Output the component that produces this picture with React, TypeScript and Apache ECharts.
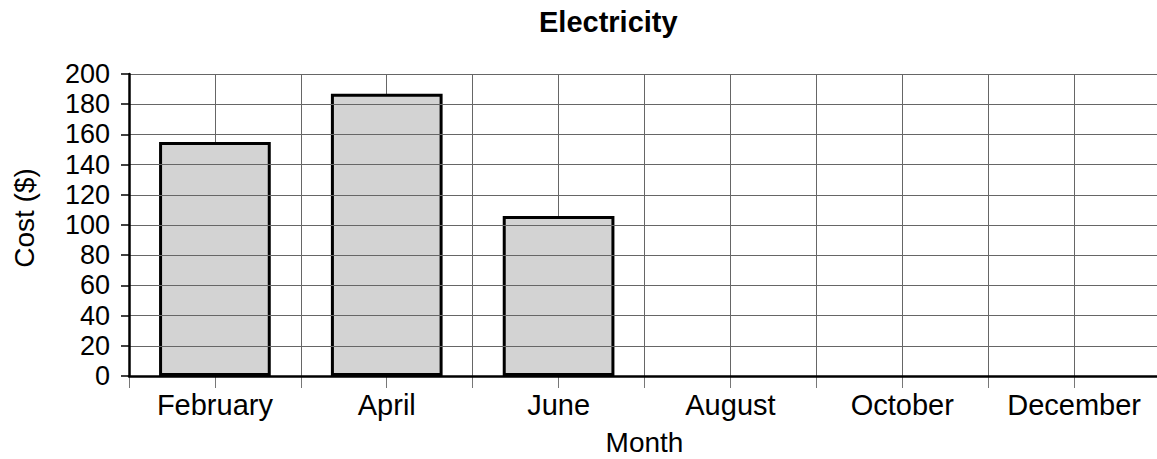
import React, { useEffect, useRef } from "react";
import * as echarts from "echarts";

const months = ["February", "April", "June", "August", "October", "December"];
const costs = [155, 187, 106, null, null, null];
const halfSlots = ["", "", "", "", "", "", "", "", "", "", "", ""];
const yMin = 0;
const yMax = 200;
const yStep = 20;

const FONT = "'Liberation Sans', Arial, Helvetica, sans-serif";

export default function App() {
  const ref = useRef<HTMLDivElement>(null);

  useEffect(() => {
    if (!ref.current) return;
    const chart = echarts.init(ref.current, null, { renderer: "svg" });
    chart.setOption({
      animation: false,
      backgroundColor: "#ffffff",
      textStyle: { fontFamily: FONT },
      title: {
        text: "Electricity",
        left: 539,
        top: 7,
        padding: 0,
        textStyle: { fontFamily: FONT, fontSize: 29, fontWeight: "bold", color: "#000" },
      },
      grid: {
        left: 129,
        right: -3,
        top: 74,
        bottom: 83,
        containLabel: false,
        outerBoundsMode: "none",
      },
      xAxis: [
        {
          type: "category",
          data: months,
          boundaryGap: true,
          position: "bottom",
          axisLine: { show: true, lineStyle: { color: "#000", width: 2.5 } },
          axisTick: { show: false },
          splitLine: { show: false },
          axisLabel: { fontSize: 29, color: "#000", margin: 14, fontFamily: FONT, interval: 0 },
          name: "Month",
          nameLocation: "middle",
          nameGap: 52,
          nameTextStyle: { fontSize: 28, color: "#000", fontFamily: FONT },
          z: 5,
        },
        {
          type: "category",
          data: halfSlots,
          boundaryGap: true,
          position: "bottom",
          axisLine: { show: false },
          axisTick: { show: true, length: 12, lineStyle: { color: "#777", width: 1 } },
          axisLabel: { show: false },
          splitLine: { show: true, lineStyle: { color: "#666", width: 1 } },
        },
      ],
      yAxis: {
        type: "value",
        min: yMin,
        max: yMax,
        interval: yStep,
        axisLine: { show: true, lineStyle: { color: "#000", width: 2.5 } },
        axisTick: { show: true, length: 8, lineStyle: { color: "#000", width: 1.5 } },
        splitLine: { show: true, lineStyle: { color: "#666", width: 1 } },
        axisLabel: { fontSize: 27, color: "#000", margin: 19, fontFamily: FONT },
        name: "Cost ($)",
        nameLocation: "middle",
        nameGap: 91,
        nameRotate: 90,
        nameTextStyle: { fontSize: 28, color: "#000", fontFamily: FONT, padding: [0, 0, 0, 14] },
        z: 5,
      },
      series: [
        {
          type: "bar",
          xAxisIndex: 0,
          yAxisIndex: 0,
          data: costs,
          barWidth: "65%",
          itemStyle: { color: "#d3d3d3", borderColor: "#000", borderWidth: 3 },
          z: 3,
        },
      ],
    });
    return () => chart.dispose();
  }, []);

  return (
    <div
      ref={ref}
      style={{ position: "fixed", left: 0, top: 0, width: 1157, height: 459, background: "#fff" }}
    />
  );
}
